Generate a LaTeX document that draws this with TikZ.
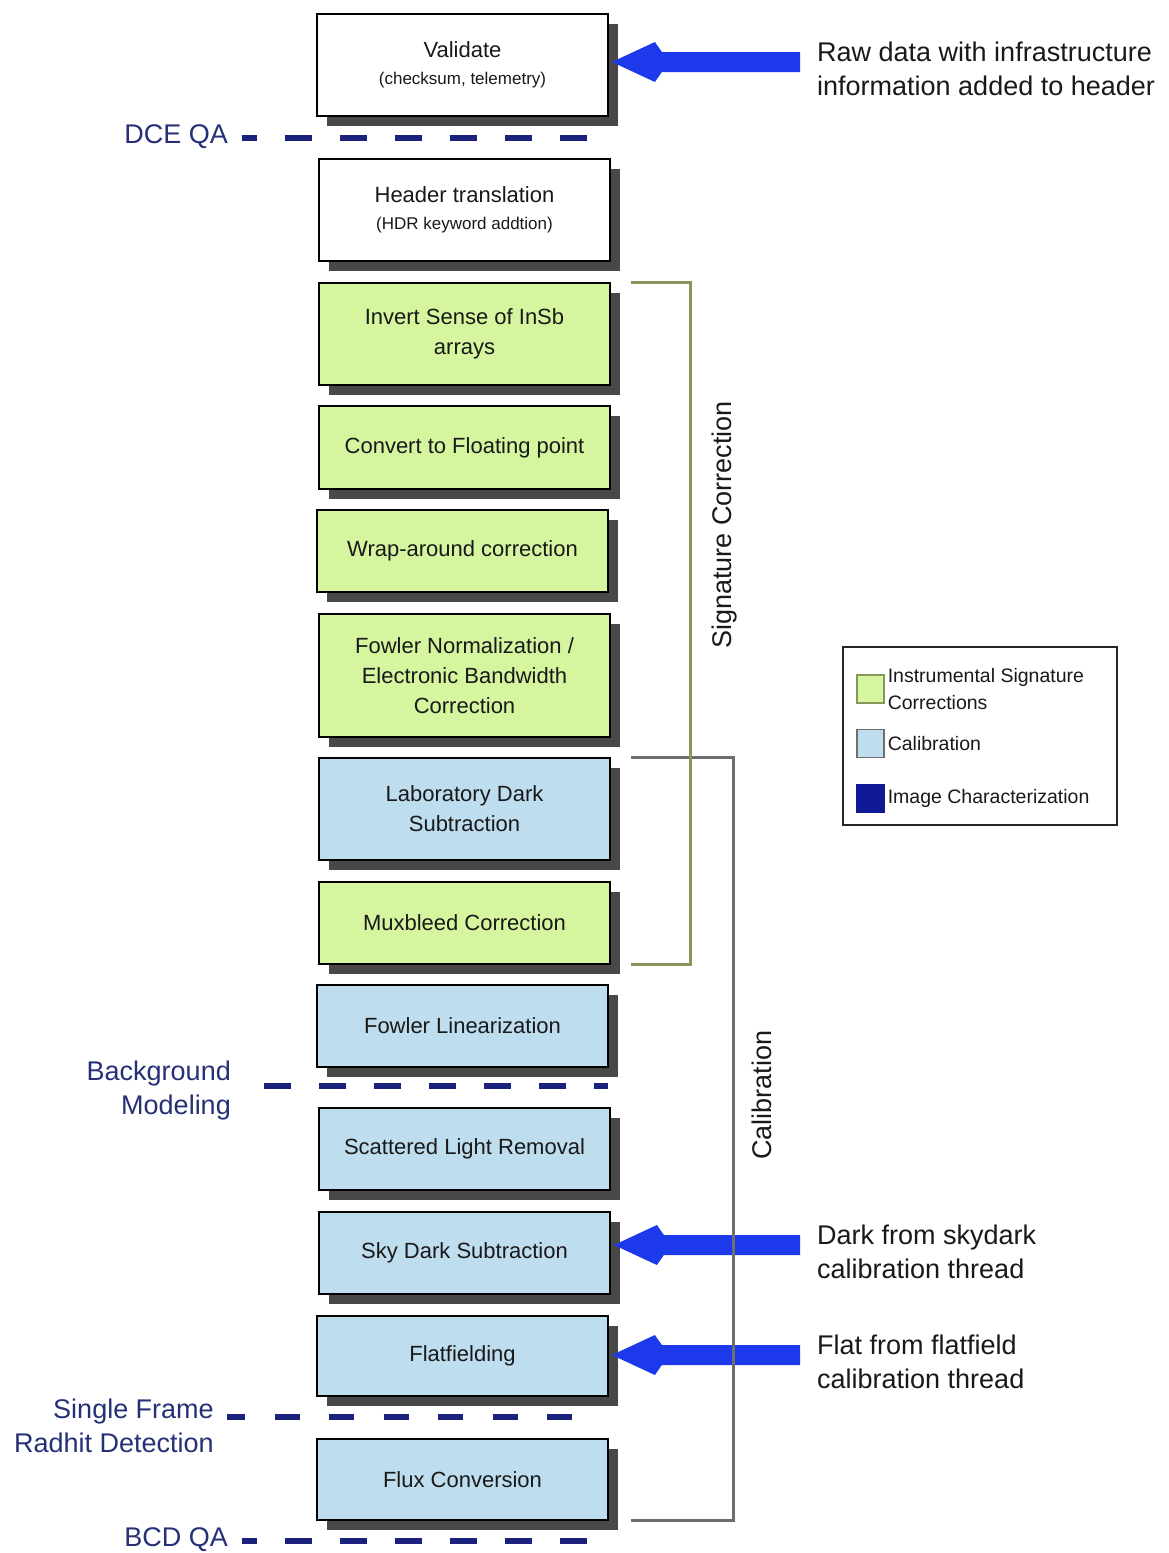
\documentclass[tikz,border=0pt]{standalone}
\usepackage{fontspec}
\setmainfont{Liberation Sans}
\usetikzlibrary{shadows}
\definecolor{sigGreen}{RGB}{213,245,158}
\definecolor{calBlue}{RGB}{190,221,238}
\definecolor{shadowGray}{RGB}{72,72,72}
\definecolor{qaNavy}{RGB}{26,34,125}
\definecolor{labelNavy}{RGB}{38,48,118}
\definecolor{arrowBlue}{RGB}{28,58,235}
\definecolor{sigLine}{RGB}{135,150,90}
\definecolor{calLine}{RGB}{110,110,110}
\definecolor{imgNavy}{RGB}{15,25,150}
\definecolor{txt}{RGB}{25,25,25}
\tikzset{
  procbox/.style={draw=black, line width=1.8pt, minimum width=291pt, inner sep=0pt,
    align=center, text=txt, font=\fontsize{22}{30}\selectfont,
    drop shadow={shadow xshift=10pt, shadow yshift=-10pt, fill=shadowGray, opacity=1}},
  whitebox/.style={procbox, fill=white},
  greenbox/.style={procbox, fill=sigGreen},
  bluebox/.style={procbox, fill=calBlue},
  qalabel/.style={text=labelNavy, font=\fontsize{27}{34}\selectfont, inner sep=0pt, align=right},
  qadash/.style={draw=qaNavy, line width=6pt, dash pattern=on 27pt off 28pt},
  rtext/.style={text=txt, font=\fontsize{27}{34}\selectfont, inner sep=0pt, align=left, anchor=west},
  sidelabel/.style={text=txt, font=\fontsize{27}{34}\selectfont, inner sep=0pt, rotate=90},
  legtext/.style={text=txt, font=\fontsize{19.5}{27}\selectfont, inner sep=0pt, align=left, anchor=west},
  swatch/.style={draw, line width=1.2pt, minimum width=27pt, minimum height=28pt, inner sep=0pt},
  sigbracket/.style={draw=sigLine, line width=3pt},
  calbracket/.style={draw=calLine, line width=3pt},
}
\newcommand\fatarrow[2]{% #1 = tail (right end), #2 = tip
  \fill[arrowBlue] (#2) -- ([shift={(43pt,20pt)}]#2) -- ([shift={(50pt,10pt)}]#2)
    -- ([yshift=10pt]#1) -- ([yshift=-10pt]#1) -- ([shift={(50pt,-10pt)}]#2)
    -- ([shift={(43pt,-20pt)}]#2) -- cycle;}
\begin{document}
\begin{tikzpicture}[x=1pt,y=-1pt]
\fill[white] (0,0) rectangle (1168,1553);
\useasboundingbox (0,0) rectangle (1168,1553);

% process boxes
\node[whitebox, minimum height=102pt] (validate) at (462.5,65)
  {Validate\\[-3pt]{\fontsize{17}{20}\selectfont (checksum, telemetry)}};
\node[whitebox, minimum height=102pt] (header) at (464.5,210)
  {Header translation\\[-3pt]{\fontsize{17}{20}\selectfont (HDR keyword addtion)}};
\node[greenbox, minimum height=102pt] (invert) at (464.5,334) {Invert Sense of InSb\\arrays};
\node[greenbox, minimum height=83pt] (convert) at (464.5,447.5) {Convert to Floating point};
\node[greenbox, minimum height=82pt] (wrap) at (462.5,551) {Wrap-around correction};
\node[greenbox, minimum height=123pt] (fnorm) at (464.5,675.5)
  {Fowler Normalization /\\Electronic Bandwidth\\Correction};
\node[bluebox, minimum height=102pt] (labdark) at (464.5,809) {Laboratory Dark\\Subtraction};
\node[greenbox, minimum height=82pt] (mux) at (464.5,923) {Muxbleed Correction};
\node[bluebox, minimum height=82pt] (flin) at (462.5,1026) {Fowler Linearization};
\node[bluebox, minimum height=82pt] (scat) at (464.5,1149) {Scattered Light Removal};
\node[bluebox, minimum height=82pt] (sky) at (464.5,1253) {Sky Dark Subtraction};
\node[bluebox, minimum height=80pt] (flat) at (462.5,1356) {Flatfielding};
\node[bluebox, minimum height=81pt] (flux) at (462.5,1479.5) {Flux Conversion};

% QA markers
\node[qalabel, anchor=east] (dce) at (228,137) {DCE QA};
\draw[qadash, dash phase=12pt] ([xshift=14pt,yshift=-1pt]dce.east) -- ++(348,0);
\node[qalabel, anchor=east] (bgm) at (231,1091) {Background\\Modeling};
\draw[qadash] ([xshift=33pt,yshift=5pt]bgm.east) -- ++(344,0);
\node[qalabel, anchor=east] (sfr) at (214,1426) {Single Frame\\Radhit Detection};
\draw[qadash, dash pattern=on 25pt off 29.5pt, dash phase=7pt] ([xshift=13pt,yshift=9pt]sfr.east) -- ++(353,0);
\node[qalabel, anchor=east] (bcd) at (228,1540) {BCD QA};
\draw[qadash, dash phase=12pt] ([xshift=14pt,yshift=-1pt]bcd.east) -- ++(348,0);

% external inputs
\node[rtext] (raw) at (817,69) {Raw data with infrastructure\\information added to header};
\coordinate (rawS) at ([xshift=-17pt,yshift=7pt]raw.west);
\coordinate (rawT) at ([xshift=3pt]rawS -| validate.east);
\fatarrow{rawS}{rawT}
\node[rtext] (skyin) at (817,1252) {Dark from skydark\\calibration thread};
\coordinate (skyS) at ([xshift=-17pt,yshift=7pt]skyin.west);
\coordinate (skyT) at ([xshift=3pt]skyS -| sky.east);
\fatarrow{skyS}{skyT}
\node[rtext] (flatin) at (817,1362) {Flat from flatfield\\calibration thread};
\coordinate (flatS) at ([xshift=-17pt,yshift=7pt]flatin.west);
\coordinate (flatT) at ([xshift=3pt]flatS -| flat.east);
\fatarrow{flatS}{flatT}

% brackets
\draw[calbracket] ([xshift=20pt]labdark.north east) -- ++(103,0) |- ([xshift=22pt]flux.south east);
\draw[sigbracket] ([xshift=20pt]invert.north east) -- ++(60,0) |- ([xshift=20pt]mux.south east);
\node[sidelabel] (sigl) at (725,525) {Signature Correction};
\node[sidelabel] (call) at (762,1095) {Calibration};

% legend
\node[draw=black!85, line width=2pt, minimum width=274pt, minimum height=178pt, inner sep=0pt] (legend) at (980,736) {};
\node[swatch, draw=sigLine, fill=sigGreen] (swg) at (870.5,689) {};
\node[swatch, draw=calLine, fill=calBlue] (swb) at (870.5,743.5) {};
\node[swatch, draw=imgNavy, fill=imgNavy] (swn) at (870.5,798.5) {};
\node[legtext] (lg1) at ([xshift=3pt]swg.east) {Instrumental Signature\\Corrections};
\node[legtext] (lg2) at ([xshift=3pt]swb.east) {Calibration};
\node[legtext] (lg3) at ([xshift=3pt]swn.east) {Image Characterization};
\end{tikzpicture}
\end{document}
